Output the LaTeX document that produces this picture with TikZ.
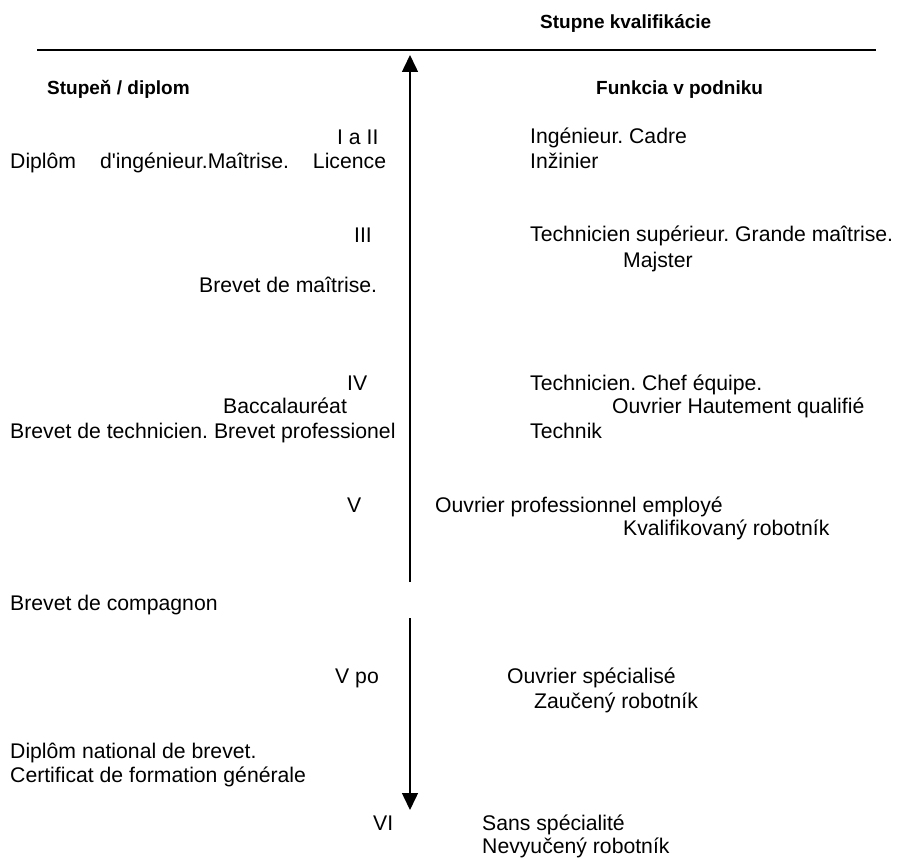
\documentclass[tikz,border=0pt]{standalone}
\usepackage{fontspec}
\setmainfont{Liberation Sans}[Ligatures=TeXOff]
\usetikzlibrary{arrows.meta}
\frenchspacing
\tikzset{
  txt/.style={anchor=base west, inner sep=0pt, font=\fontsize{21.2}{25}\selectfont},
  hdr/.style={anchor=base west, inner sep=0pt, font=\fontsize{19}{23}\selectfont\bfseries},
  axis/.style={line width=1.5pt, -{Triangle[width=16pt,length=17pt]}},
  rule/.style={line width=2pt}
}
\begin{document}
\begin{tikzpicture}[x=1pt,y=-1pt]
\useasboundingbox (0,0) rectangle (898,859);
% headers
\node[hdr] (h1) at (540,29) {Stupne kvalifikácie};
\node[hdr] (h2) at (47,95) {Stupeň / diplom};
\node[hdr] (h3) at (596,95) {Funkcia v podniku};
% rule and axis
\coordinate (hl) at (37,50);
\coordinate (hr) at (876,50);
\draw[rule] (hl) -- (hr);
\coordinate (abot) at (410,582);
\coordinate (atop) at (410,55);
\draw[axis] (abot) -- (atop);
\coordinate (btop) at (410,618);
\coordinate (bbot) at (410,810);
\draw[axis] (btop) -- (bbot);
% level I a II
\node[txt] (l1) at (337,144) {I a II};
\node[txt] (d1) at (10,168) {Diplôm\hspace{0.85em} d'ingénieur.Maîtrise.\hspace{0.85em} Licence};
\node[txt] (f1a) at (530,143) {Ingénieur. Cadre};
\node[txt] (f1b) at (530,168) {Inžinier};
% level III
\node[txt] (l3) at (354,242) {III};
\node[txt] (d3) at (199,292) {Brevet de maîtrise.};
\node[txt] (f3a) at (530,241) {Technicien supérieur. Grande maîtrise.};
\node[txt] (f3b) at (623,267) {Majster};
% level IV
\node[txt] (l4) at (347,390) {IV};
\node[txt] (d4a) at (223,413) {Baccalauréat};
\node[txt] (d4b) at (10,438) {Brevet de technicien. Brevet professionel};
\node[txt] (f4a) at (530,390) {Technicien. Chef équipe.};
\node[txt] (f4b) at (612,413) {Ouvrier Hautement qualifié};
\node[txt] (f4c) at (530,438) {Technik};
% level V
\node[txt] (l5) at (347,512) {V};
\node[txt] (f5a) at (435,512) {Ouvrier professionnel employé};
\node[txt] (f5b) at (623,535) {Kvalifikovaný robotník};
\node[txt] (d5) at (10,610) {Brevet de compagnon};
% level V po
\node[txt] (l5p) at (335,683) {V po};
\node[txt] (f6a) at (507,683) {Ouvrier spécialisé};
\node[txt] (f6b) at (534,708) {Zaučený robotník};
\node[txt] (d6a) at (10,758) {Diplôm national de brevet.};
\node[txt] (d6b) at (10,782) {Certificat de formation générale};
% level VI
\node[txt] (l6) at (373,830) {VI};
\node[txt] (f7a) at (482,830) {Sans spécialité};
\node[txt] (f7b) at (482,853) {Nevyučený robotník};
\end{tikzpicture}
\end{document}
